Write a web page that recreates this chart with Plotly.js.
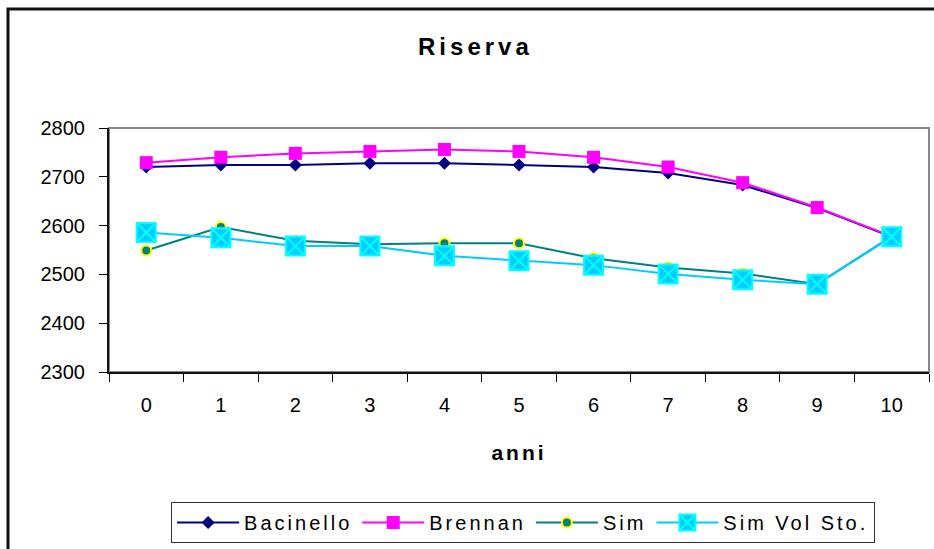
<!DOCTYPE html>
<html>
<head>
<meta charset="utf-8">
<script src="https://cdn.plot.ly/plotly-3.0.1.min.js"></script>
<style>
  html, body { margin: 0; padding: 0; background: #fff; }
  #chart { width: 934px; height: 549px; }
  .gtitle { letter-spacing: 4px; }
  .xtitle { letter-spacing: 3px; }
  .legendtext { letter-spacing: 3px; }
</style>
</head>
<body>
<div id="chart"></div>
<script>
const anni = ["0", "1", "2", "3", "4", "5", "6", "7", "8", "9", "10"];
const bacinello = [2720, 2724, 2724, 2728, 2728, 2724, 2720, 2708, 2683, 2636, 2577];
const brennan = [2729, 2740, 2748, 2752, 2756, 2752, 2740, 2720, 2688, 2637, 2578];
const sim = [2549, 2597, 2569, 2562, 2564, 2564, 2533, 2514, 2502, 2480, 2578];
const simVolSto = [2586, 2575, 2558, 2558, 2538, 2528, 2519, 2501, 2489, 2480, 2577];
const yTicks = [2300, 2400, 2500, 2600, 2700, 2800];

const FONT = "Liberation Sans, Arial, Helvetica, sans-serif";

const traces = [
  {
    x: anni, y: bacinello, name: "Bacinello", type: "scatter", mode: "lines+markers",
    line: { color: "#000080", width: 2 },
    marker: { symbol: "diamond", size: 10, color: "#000080" }
  },
  {
    x: anni, y: brennan, name: "Brennan", type: "scatter", mode: "lines+markers",
    line: { color: "#FF00FF", width: 2 },
    marker: { symbol: "square", size: 13, color: "#FF00FF" }
  },
  {
    x: anni, y: sim, name: "Sim", type: "scatter", mode: "lines+markers",
    line: { color: "#008080", width: 2 },
    marker: { symbol: "circle", size: 10, color: "#008080", line: { color: "#FFFF00", width: 2 } }
  },
  {
    x: anni, y: simVolSto, name: "Sim Vol Sto.", type: "scatter", mode: "lines+markers",
    line: { color: "#00CCFF", width: 2 },
    marker: { symbol: "square-x", size: 19, color: "#00CCFF", line: { color: "#00FFFF", width: 2 } }
  }
];

const layout = {
  width: 934, height: 549,
  margin: { l: 109, r: 5, t: 128, b: 177 },
  paper_bgcolor: "#ffffff", plot_bgcolor: "#ffffff",
  font: { family: FONT, color: "#000", size: 20 },
  showlegend: true,
  title: {
    text: "Riserva",
    font: { family: FONT, size: 24, weight: "bold", color: "#000" },
    x: 0.509, xref: "container", xanchor: "center",
    y: 1 - 47 / 549, yref: "container", yanchor: "middle"
  },
  xaxis: {
    type: "category",
    range: [-0.5, 10.5],
    tickson: "boundaries",
    ticks: "outside", ticklen: 8, tickwidth: 1, tickcolor: "#000",
    showline: true, linecolor: "#111", linewidth: 2,
    showgrid: false, zeroline: false,
    tickfont: { family: FONT, size: 20, color: "#000" },
    ticklabelstandoff: 14,
    title: { text: "anni", font: { family: FONT, size: 21, weight: "bold", color: "#000" }, standoff: 30 },
    fixedrange: true
  },
  yaxis: {
    range: [2300, 2800],
    tickvals: yTicks,
    ticks: "outside", ticklen: 8, tickwidth: 1, tickcolor: "#000",
    showline: true, linecolor: "#111", linewidth: 2,
    showgrid: false, zeroline: false,
    tickfont: { family: FONT, size: 20, color: "#000" },
    ticklabelstandoff: 10,
    fixedrange: true
  },
  legend: {
    orientation: "h",
    x: 0.505, xanchor: "center",
    y: (372 - 502) / 244, yanchor: "top",
    bordercolor: "#333", borderwidth: 1,
    bgcolor: "#fff",
    font: { family: FONT, size: 20, color: "#000" },
    itemwidth: 62,
    traceorder: "normal"
  },
  shapes: [
    {
      type: "rect", xref: "paper", yref: "paper",
      x0: 0, x1: 1, y0: 0, y1: 1,
      line: { color: "#888", width: 2 }, layer: "below"
    },
    {
      type: "rect", xref: "paper", yref: "paper",
      x0: (8 - 109) / 820, x1: (945 - 109) / 820,
      y0: (372 - 560) / 244, y1: (372 - 9) / 244,
      line: { color: "#111", width: 3 }, layer: "below"
    }
  ]
};

Plotly.newPlot("chart", traces, layout, { displayModeBar: false, staticPlot: true });
</script>
</body>
</html>
